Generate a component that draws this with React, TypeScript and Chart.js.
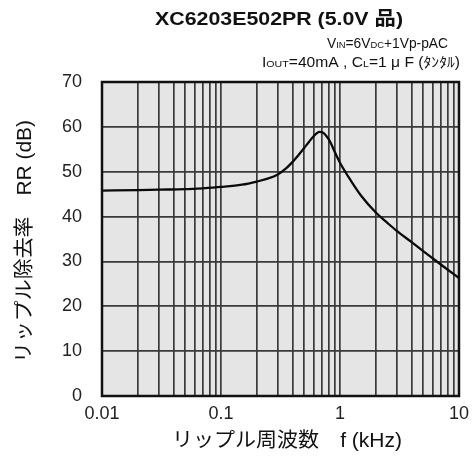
import React, { useEffect, useRef } from "react";
import { Chart, registerables } from "chart.js";

Chart.register(...registerables);

// ---- data ----
const FREQ_KHZ = [0.01, 0.02, 0.03, 0.05, 0.07, 0.1, 0.15, 0.2, 0.25, 0.3, 0.35, 0.4, 0.45, 0.5, 0.55, 0.6, 0.64, 0.67, 0.71, 0.75, 0.8, 0.85, 0.9, 1.0, 1.1, 1.2, 1.5, 2, 2.5, 3, 4, 5, 6, 8, 10];
const RR_DB = [45.8, 45.9, 46.0, 46.1, 46.3, 46.6, 47.1, 47.8, 48.5, 49.4, 50.7, 52.2, 53.8, 55.3, 56.7, 57.9, 58.6, 58.9, 58.8, 58.3, 57.3, 56.0, 54.5, 52.0, 50.1, 48.5, 44.7, 40.9, 38.6, 36.8, 34.3, 32.3, 30.7, 28.2, 26.3];
const X_GRID = [0.01, 0.02, 0.03, 0.04, 0.05, 0.06, 0.07, 0.08, 0.09, 0.1, 0.2, 0.3, 0.4, 0.5, 0.6, 0.7, 0.8, 0.9, 1, 2, 3, 4, 5, 6, 7, 8, 9, 10];
const X_TICK_VALUES = [0.01, 0.1, 1, 10];
const X_TICK_LABELS = ["0.01", "0.1", "1", "10"];
const Y_MIN = 0;
const Y_MAX = 70;
const Y_STEP = 10;

const TITLE = "XC6203E502PR (5.0V 品)";
const X_TITLE = "リップル周波数\u3000f (kHz)";
const Y_TITLE = "リップル除去率\u3000RR (dB)";
const COND_LINE1 = [
  { t: "V", s: false }, { t: "IN", s: true }, { t: "=6V", s: false }, { t: "DC", s: true }, { t: "+1Vp-pAC", s: false },
];
const COND_LINE2 = [
  { t: "I", s: false }, { t: "OUT", s: true }, { t: "=40mA , C", s: false }, { t: "L", s: true }, { t: "=1 μ F (ﾀﾝﾀﾙ)", s: false },
];

const FONT = '"Liberation Sans", Arial, "Noto Sans CJK JP", sans-serif';

// draw text centred at (cx, cy), stretched along its direction to a given length
function fitText(ctx: CanvasRenderingContext2D, text: string, font: string, cx: number, cy: number, len: number, rot: number) {
  ctx.save();
  ctx.font = font;
  const w = ctx.measureText(text).width;
  ctx.translate(cx, cy);
  ctx.rotate(rot);
  ctx.scale(len / w, 1);
  ctx.textAlign = "center";
  ctx.textBaseline = "middle";
  ctx.fillText(text, 0, 0);
  ctx.restore();
}

function drawSegments(ctx: CanvasRenderingContext2D, segs: { t: string; s: boolean }[], leftX: number, rightX: number, baseY: number, size: number) {
  ctx.save();
  const widths = segs.map((g) => {
    ctx.font = `${g.s ? size * 0.68 : size}px ${FONT}`;
    return ctx.measureText(g.t).width;
  });
  const total = widths.reduce((a, b) => a + b, 0);
  ctx.translate(leftX, baseY);
  ctx.scale((rightX - leftX) / total, 1);
  let x = 0;
  ctx.textAlign = "left";
  ctx.textBaseline = "alphabetic";
  segs.forEach((g, i) => {
    ctx.font = `${g.s ? size * 0.68 : size}px ${FONT}`;
    ctx.fillText(g.t, x, 0);
    x += widths[i];
  });
  ctx.restore();
}

const decorPlugin = {
  id: "decor",
  beforeDraw(chart: any) {
    const { ctx, chartArea: a } = chart;
    ctx.save();
    ctx.fillStyle = "#ffffff";
    ctx.fillRect(0, 0, chart.width, chart.height);
    ctx.fillStyle = "#e5e5e5";
    ctx.fillRect(a.left, a.top, a.right - a.left, a.bottom - a.top);
    ctx.restore();
  },
  beforeDatasetsDraw(chart: any) {
    const { ctx, chartArea: a } = chart;
    ctx.save();
    ctx.strokeStyle = "#111111";
    ctx.lineWidth = 2.5;
    ctx.strokeRect(a.left, a.top, a.right - a.left, a.bottom - a.top);
    ctx.restore();
  },
  afterDraw(chart: any) {
    const { ctx } = chart;
    ctx.save();
    ctx.fillStyle = "#111111";
    fitText(ctx, TITLE, `bold 19px ${FONT}`, 279, 20, 248, 0);
    drawSegments(ctx, COND_LINE1, 327, 448, 48, 14);
    drawSegments(ctx, COND_LINE2, 262, 460, 67, 14);
    fitText(ctx, X_TITLE, `20px ${FONT}`, 287, 441, 230, 0);
    fitText(ctx, Y_TITLE, `20px ${FONT}`, 25, 241.5, 243, -Math.PI / 2);
    ctx.restore();
  },
};

export default function App() {
  const ref = useRef<HTMLCanvasElement | null>(null);
  useEffect(() => {
    document.body.style.margin = "0";
    const canvas = ref.current;
    if (!canvas) return;
    const chart = new Chart(canvas, {
      type: "line",
      data: {
        datasets: [
          {
            data: FREQ_KHZ.map((f, i) => ({ x: f, y: RR_DB[i] })),
            borderColor: "#0a0a0a",
            borderWidth: 2.3,
            pointRadius: 0,
            fill: false,
            cubicInterpolationMode: "monotone",
          },
        ],
      },
      options: {
        responsive: false,
        animation: false,
        devicePixelRatio: 1,
        layout: { padding: { top: 82, right: 17, left: 0, bottom: 0 } },
        plugins: { legend: { display: false }, tooltip: { enabled: false }, title: { display: false } },
        scales: {
          x: {
            type: "logarithmic",
            min: 0.01,
            max: 10,
            afterBuildTicks: (scale: any) => {
              scale.ticks = X_GRID.map((v) => ({ value: v }));
            },
            afterFit: (scale: any) => {
              scale.height = 69;
            },
            grid: { color: "#3a3a3a", lineWidth: 1.7, drawTicks: false },
            border: { display: false },
            ticks: {
              autoSkip: false,
              maxRotation: 0,
              padding: 7,
              color: "#222222",
              font: { family: FONT, size: 18 },
              callback: (value: any) => {
                const idx = X_TICK_VALUES.findIndex((v) => Math.abs(v - Number(value)) < 1e-9);
                return idx >= 0 ? X_TICK_LABELS[idx] : "";
              },
            },
          },
          y: {
            type: "linear",
            min: Y_MIN,
            max: Y_MAX,
            afterFit: (scale: any) => {
              scale.width = 102;
            },
            grid: { color: "#3a3a3a", lineWidth: 1.7, drawTicks: false },
            border: { display: false },
            ticks: {
              stepSize: Y_STEP,
              padding: 20,
              color: "#222222",
              font: { family: FONT, size: 18 },
            },
          },
        },
      },
      plugins: [decorPlugin],
    } as any);
    return () => chart.destroy();
  }, []);
  return <canvas ref={ref} width={476} height={465} style={{ width: 476, height: 465, display: "block" }} />;
}
